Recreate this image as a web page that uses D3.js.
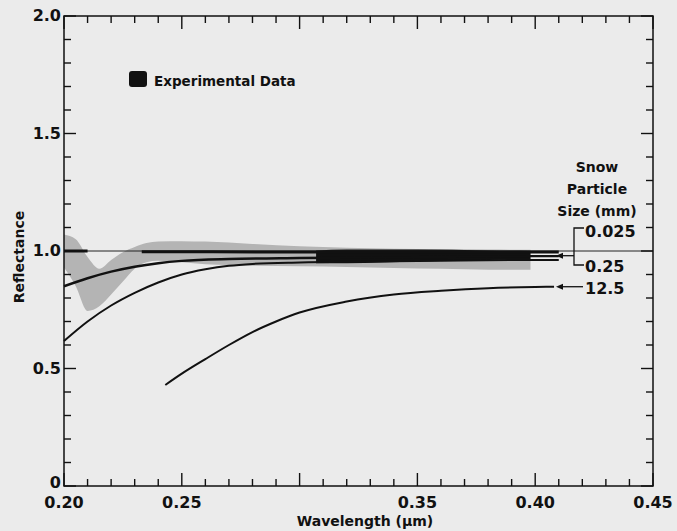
<!DOCTYPE html>
<html>
<head>
<meta charset="utf-8">
<script src="https://cdn.jsdelivr.net/npm/d3@7"></script>
<style>
  body { margin: 0; background: #ebebeb; }
  svg { display: block; }
  text { font-family: "DejaVu Sans", sans-serif; fill: #111; }
</style>
</head>
<body>
<svg id="chart"></svg>
<script>
// Tick values
const xMajor = [0.20, 0.25, 0.30, 0.35, 0.40, 0.45];
const xLabels = ["0.20", "0.25", "", "0.35", "0.40", "0.45"];
const yMajor = [0, 0.5, 1.0, 1.5, 2.0];
const yLabels = ["0", "0.5", "1.0", "1.5", "2.0"];

const bandWl = [0.200, 0.205, 0.210, 0.215, 0.220, 0.225, 0.230, 0.235, 0.240, 0.250, 0.260, 0.270, 0.280, 0.300, 0.320, 0.340, 0.360, 0.380, 0.398];
const bandHi = [1.07, 1.05, 0.975, 0.925, 0.962, 0.995, 1.017, 1.034, 1.04, 1.042, 1.04, 1.036, 1.03, 1.02, 1.014, 1.01, 1.008, 1.006, 1.005];
const bandLo = [0.93, 0.85, 0.745, 0.765, 0.815, 0.87, 0.925, 0.952, 0.958, 0.952, 0.944, 0.94, 0.937, 0.935, 0.932, 0.928, 0.924, 0.92, 0.92];

// dense (black) part of the experimental data
const coreWl = [0.307, 0.320, 0.350, 0.380, 0.398];
const coreHi = [1.002, 1.006, 1.006, 1.002, 1.0];
const coreLo = [0.948, 0.948, 0.955, 0.962, 0.966];

// Theory curves, snow particle size (mm); NaN = not drawn
const wlA = [0.200, 0.210, 0.212, 0.233, 0.300, 0.350, 0.410];
const rA  = [1.0, 1.0, NaN, 0.997, 0.996, 0.996, 0.996];
const wlB = [0.200, 0.210, 0.220, 0.230, 0.240, 0.250, 0.270, 0.300, 0.350, 0.400, 0.410];
const rB  = [0.85, 0.884, 0.912, 0.933, 0.948, 0.958, 0.966, 0.970, 0.974, 0.978, 0.978];
const wlC = [0.200, 0.210, 0.220, 0.230, 0.240, 0.250, 0.260, 0.270, 0.280, 0.300, 0.330, 0.360, 0.400, 0.410];
const rC  = [0.617, 0.70, 0.768, 0.822, 0.866, 0.900, 0.922, 0.937, 0.945, 0.951, 0.955, 0.959, 0.962, 0.962];
const wlD = [0.243, 0.250, 0.260, 0.270, 0.280, 0.290, 0.300, 0.320, 0.340, 0.360, 0.380, 0.400, 0.408];
const rD  = [0.43, 0.478, 0.54, 0.60, 0.655, 0.70, 0.738, 0.785, 0.815, 0.831, 0.842, 0.847, 0.848];

const W = 677, H = 531;
const margin = {left: 64, right: 24, top: 16, bottom: 45};

const svg = d3.select("#chart").attr("width", W).attr("height", H);

const x = d3.scaleLinear().domain([0.20, 0.45]).range([margin.left, W - margin.right]);
const y = d3.scaleLinear().domain([0, 2.0]).range([H - margin.bottom, margin.top]);

const xMinor = d3.range(0.20, 0.4501, 0.01);
const yMinor = d3.range(0, 2.0001, 0.1);

// experimental band
const zip = (a, b, c) => a.map((v, i) => ({w: v, hi: b[i], lo: c[i]}));
const area = d3.area().x(d => x(d.w)).y0(d => y(d.lo)).y1(d => y(d.hi)).curve(d3.curveMonotoneX);

svg.append("path")
    .attr("d", area(zip(bandWl, bandHi, bandLo)))
    .attr("fill", "#b4b4b4");

svg.append("path")
    .attr("d", area(zip(coreWl, coreHi, coreLo)))
    .attr("fill", "#111");

// reference line at R = 1
svg.append("line")
    .attr("x1", x(0.20)).attr("x2", x(0.45))
    .attr("y1", y(1)).attr("y2", y(1))
    .attr("stroke", "#222").attr("stroke-width", 1);

// theory curves
const line = d3.line()
    .defined(d => !isNaN(d[1]))
    .x(d => x(d[0])).y(d => y(d[1]))
    .curve(d3.curveMonotoneX);

[[wlA, rA, 3], [wlB, rB, 2.4], [wlC, rC, 2], [wlD, rD, 2]].forEach(([w, r, sw]) => {
    svg.append("path")
        .attr("d", line(w.map((v, i) => [v, r[i]])))
        .attr("fill", "none")
        .attr("stroke", "#111")
        .attr("stroke-width", sw);
});

// frame
svg.append("rect")
    .attr("x", x(0.20)).attr("y", y(2))
    .attr("width", x(0.45) - x(0.20)).attr("height", y(0) - y(2))
    .attr("fill", "none").attr("stroke", "#111").attr("stroke-width", 1.5);

// ticks, all pointing inward
const isMajor = (v, step) => Math.abs(v / step - Math.round(v / step)) < 1e-6;
const ticks = svg.append("g").attr("stroke", "#111").attr("stroke-width", 1.4);

xMinor.forEach(v => {
    const len = isMajor(v, 0.05) ? 13 : 7;
    ticks.append("line").attr("x1", x(v)).attr("x2", x(v)).attr("y1", y(0)).attr("y2", y(0) - len);
    ticks.append("line").attr("x1", x(v)).attr("x2", x(v)).attr("y1", y(2)).attr("y2", y(2) + len);
});
yMinor.forEach(v => {
    const len = isMajor(v, 0.5) ? 12 : 7;
    ticks.append("line").attr("x1", x(0.20)).attr("x2", x(0.20) + len).attr("y1", y(v)).attr("y2", y(v));
    ticks.append("line").attr("x1", x(0.45)).attr("x2", x(0.45) - len).attr("y1", y(v)).attr("y2", y(v));
});

// tick labels
svg.selectAll(".xl").data(xMajor).enter().append("text")
    .attr("x", d => x(d)).attr("y", y(0) + 22)
    .attr("text-anchor", "middle").attr("font-size", 16).attr("font-weight", "bold")
    .text((d, i) => xLabels[i]);

svg.selectAll(".yl").data(yMajor).enter().append("text")
    .attr("x", x(0.20) - 3).attr("y", d => y(d) + (d === 0 ? 2 : 5))
    .attr("text-anchor", "end").attr("font-size", 16).attr("font-weight", "bold")
    .text((d, i) => yLabels[i]);

// axis titles
svg.append("text")
    .attr("x", 365).attr("y", 526)
    .attr("text-anchor", "middle").attr("font-size", 14).attr("font-weight", "bold")
    .text("Wavelength  (\u03bcm)");

svg.append("text")
    .attr("transform", `translate(24, ${y(1.0) + 6}) rotate(-90)`)
    .attr("text-anchor", "middle").attr("font-size", 14).attr("font-weight", "bold")
    .text("Reflectance");

// legend
svg.append("rect")
    .attr("x", 129).attr("y", 71).attr("width", 18).attr("height", 16).attr("rx", 3)
    .attr("fill", "#111");
svg.append("text")
    .attr("x", 154).attr("y", 86).attr("font-size", 13.5).attr("font-weight", "bold")
    .text("Experimental Data");

// particle size annotation
const note = svg.append("g").attr("font-weight", "bold").attr("font-size", 14).attr("text-anchor", "middle");
["Snow", "Particle", "Size (mm)"].forEach((t, i) => {
    note.append("text").attr("x", 597).attr("y", 172 + i * 22).text(t);
});

const sizes = ["0.025", "0.25", "12.5"];
const sizeY = [237, 272, 294];
svg.selectAll(".sz").data(sizes).enter().append("text")
    .attr("x", 585).attr("y", (d, i) => sizeY[i])
    .attr("font-size", 16).attr("font-weight", "bold")
    .text(d => d);

const ann = svg.append("g").attr("stroke", "#111").attr("stroke-width", 1.3).attr("fill", "none");
ann.append("path").attr("d", "M584,228 H574 V265 H584");
ann.append("path").attr("d", `M574,${y(0.98)} H560`);
ann.append("path").attr("d", `M583,${y(0.848)} H560`);
svg.append("path").attr("d", `M556,${y(0.98)} l7,-3 v6 z`).attr("fill", "#111");
svg.append("path").attr("d", `M556,${y(0.848)} l7,-3 v6 z`).attr("fill", "#111");
</script>
</body>
</html>
